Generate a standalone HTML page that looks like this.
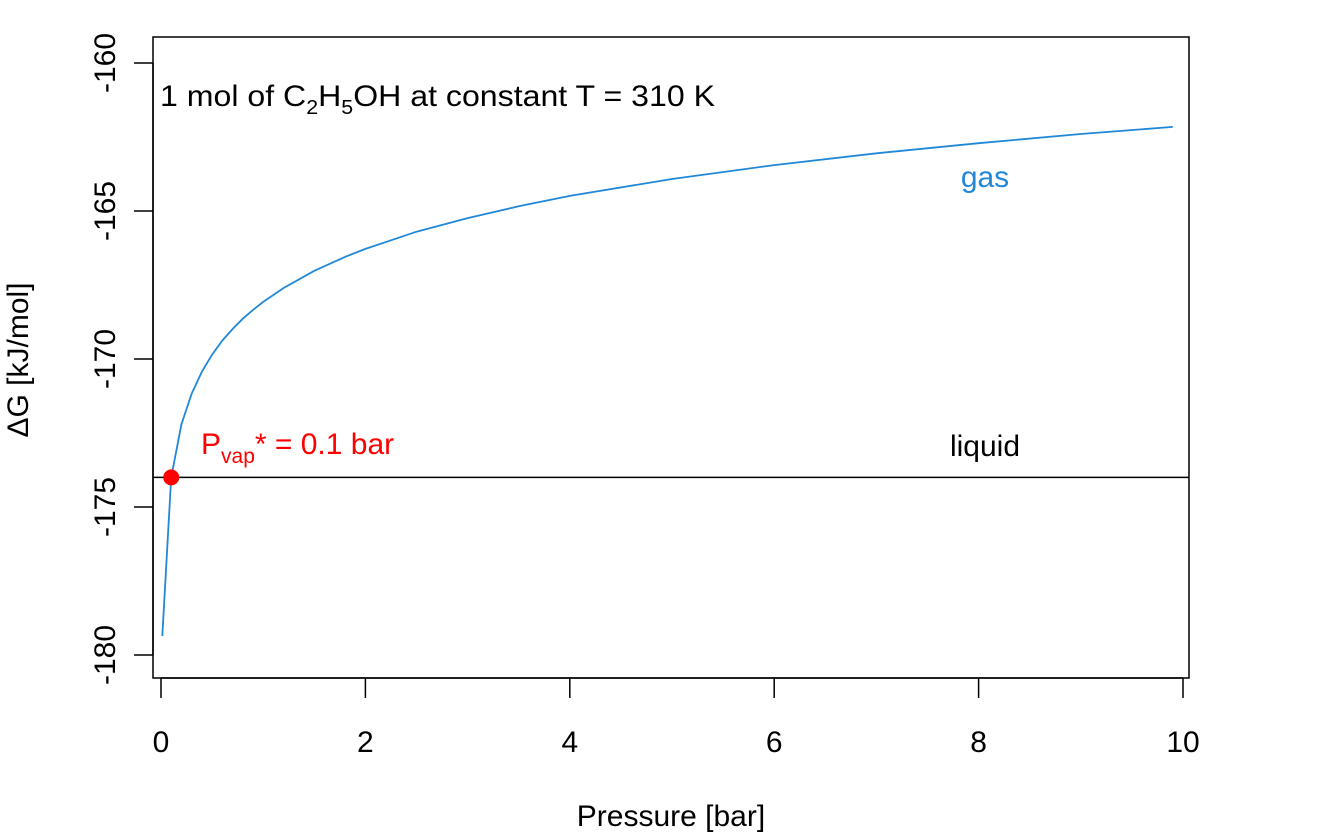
<!DOCTYPE html>
<html><head><meta charset="utf-8"><style>
html,body{margin:0;padding:0;background:#fff;}
svg{display:block;font-family:"Liberation Sans",Arial,sans-serif;}
</style></head><body>
<svg id="chart" width="1344" height="833" viewBox="0 0 1344 833">
<rect x="153" y="37" width="1036" height="641" fill="none" stroke="#000" stroke-width="1.5"/>
<g id="xaxis"></g>
<g id="yaxis"></g>
<text x="671" y="826" font-size="30" text-anchor="middle">Pressure [bar]</text>
<text transform="translate(28,360) rotate(-90)" font-size="30" text-anchor="middle">ΔG [kJ/mol]</text>
<text x="160" y="106" font-size="30" textLength="555" lengthAdjust="spacingAndGlyphs">1 mol of C<tspan font-size="20" dy="8">2</tspan><tspan dy="-8">H</tspan><tspan font-size="20" dy="8">5</tspan><tspan dy="-8">OH at constant T = 310 K</tspan></text>
<g id="series"></g>
</svg>
<script>
const xTicks = [0, 2, 4, 6, 8, 10];
const yTicks = [-180, -175, -170, -165, -160];
const gasP = [0.0125, 0.1, 0.2, 0.3, 0.4, 0.5, 0.6, 0.7, 0.8, 0.9, 1, 1.2, 1.5, 1.8, 2, 2.5, 3, 3.5, 4, 5, 6, 7, 8, 9, 9.9];
const gasG = [-179.36, -174, -172.21, -171.17, -170.43, -169.85, -169.38, -168.99, -168.64, -168.34, -168.07, -167.60, -167.02, -166.55, -166.28, -165.70, -165.24, -164.84, -164.49, -163.92, -163.45, -163.05, -162.71, -162.40, -162.16];
const liquidG = [-174];
const vapP = [0.1];

const NS = "http://www.w3.org/2000/svg";
function xs(v){ return 161 + v * 102.2; }
function ys(v){ return 63 + (-160 - v) * 29.6; }
function mk(tag, attrs, parent){ const e = document.createElementNS(NS, tag); for (const k in attrs) e.setAttribute(k, attrs[k]); parent.appendChild(e); return e; }

const xa = document.getElementById('xaxis');
mk('line', {x1: xs(0), x2: xs(10), y1: 678, y2: 678, stroke: '#000', 'stroke-width': 1.5}, xa);
xTicks.forEach(t => {
  const l = mk('line', {x1: xs(t), x2: xs(t), y1: 678, y2: 698, stroke: '#000', 'stroke-width': 1.5}, xa);
  
  
  const tx = mk('text', {x: xs(t), y: 752, 'font-size': 30, 'text-anchor': 'middle'}, xa);
  tx.textContent = t;
  
  
});
const ya = document.getElementById('yaxis');
mk('line', {x1: 153, x2: 153, y1: ys(-180), y2: ys(-160), stroke: '#000', 'stroke-width': 1.5}, ya);
yTicks.forEach(t => {
  const l = mk('line', {x1: 134, x2: 153, y1: ys(t), y2: ys(t), stroke: '#000', 'stroke-width': 1.5}, ya);
  
  
  const tx = mk('text', {transform: 'translate(115,' + ys(t) + ') rotate(-90)', 'font-size': 30, 'text-anchor': 'middle'}, ya);
  tx.textContent = t;
  
  
});

const s = document.getElementById('series');
const liq = mk('line', {x1: 153, x2: 1189, y1: ys(liquidG[0]), y2: ys(liquidG[0]), stroke: '#000', 'stroke-width': 1.5}, s);


const pts = gasP.map((p, i) => xs(p).toFixed(1) + ',' + ys(gasG[i]).toFixed(1)).join(' ');
const gas = mk('polyline', {points: pts, fill: 'none', stroke: '#2188d8', 'stroke-width': 1.8}, s);


const dot = mk('circle', {cx: xs(vapP[0]), cy: ys(liquidG[0]), r: 8, fill: '#ff0000'}, s);



const gl = mk('text', {x: 985, y: 187, 'font-size': 30, fill: '#2188d8', 'text-anchor': 'middle'}, s);
gl.textContent = 'gas';


const ll = mk('text', {x: 985, y: 456, 'font-size': 30, 'text-anchor': 'middle'}, s);
ll.textContent = 'liquid';


const vl = mk('text', {x: 201, y: 454, 'font-size': 30, fill: '#ff0000'}, s);
vl.innerHTML = 'P<tspan font-size="21" dy="9">vap</tspan><tspan dy="-9">* = 0.1 bar</tspan>';


</script>
</body></html>
